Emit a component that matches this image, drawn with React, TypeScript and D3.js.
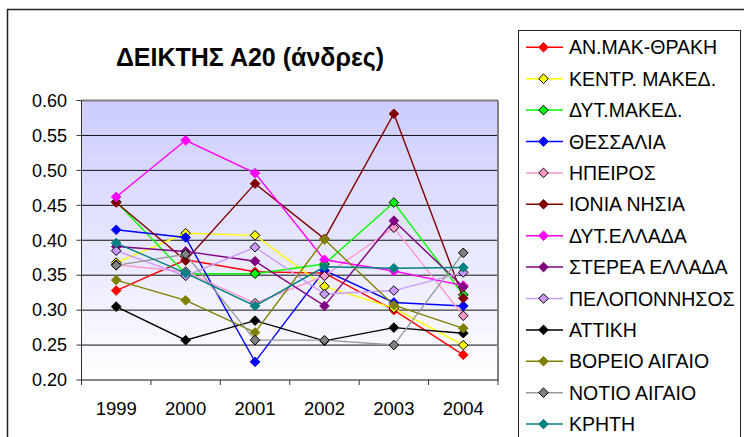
import React from "react";
import * as d3 from "d3";

const years = ["1999", "2000", "2001", "2002", "2003", "2004"];
const yTicks = [0.2, 0.25, 0.3, 0.35, 0.4, 0.45, 0.5, 0.55, 0.6];

const regionNames = [
  "ΑΝ.ΜΑΚ-ΘΡΑΚΗ",
  "ΚΕΝΤΡ. ΜΑΚΕΔ.",
  "ΔΥΤ.ΜΑΚΕΔ.",
  "ΘΕΣΣΑΛΙΑ",
  "ΗΠΕΙΡΟΣ",
  "ΙΟΝΙΑ ΝΗΣΙΑ",
  "ΔΥΤ.ΕΛΛΑΔΑ",
  "ΣΤΕΡΕΑ ΕΛΛΑΔΑ",
  "ΠΕΛΟΠΟΝΝΗΣΟΣ",
  "ΑΤΤΙΚΗ",
  "ΒΟΡΕΙΟ ΑΙΓΑΙΟ",
  "ΝΟΤΙΟ ΑΙΓΑΙΟ",
  "ΚΡΗΤΗ",
];

const anMakThraki = [0.328, 0.372, 0.355, 0.353, 0.3, 0.236];
const kentrMaked = [0.368, 0.41, 0.407, 0.334, 0.303, 0.25];
const dytMaked = [0.455, 0.352, 0.352, 0.366, 0.454, 0.322];
const thessalia = [0.415, 0.404, 0.226, 0.357, 0.311, 0.306];
const ipeiros = [0.365, 0.355, 0.31, 0.349, 0.418, 0.292];
const ioniaNisia = [0.454, 0.371, 0.481, 0.402, 0.581, 0.317];
const dytEllada = [0.462, 0.543, 0.496, 0.372, 0.356, 0.335];
const stereaEllada = [0.391, 0.384, 0.37, 0.306, 0.428, 0.333];
const peloponnisos = [0.385, 0.349, 0.39, 0.323, 0.328, 0.354];
const attiki = [0.305, 0.257, 0.285, 0.256, 0.275, 0.267];
const voreioAigaio = [0.343, 0.314, 0.268, 0.401, 0.307, 0.274];
const notioAigaio = [0.364, 0.38, 0.257, 0.257, 0.25, 0.382];
const kriti = [0.396, 0.353, 0.306, 0.362, 0.36, 0.361];

const seriesValues = [
  anMakThraki, kentrMaked, dytMaked, thessalia, ipeiros, ioniaNisia, dytEllada,
  stereaEllada, peloponnisos, attiki, voreioAigaio, notioAigaio, kriti,
];

const lineColors = [
  "#ff0000", "#ffff00", "#00ff00", "#0000ff", "#ff99cc", "#800000", "#ff00ff",
  "#800080", "#cc99ff", "#000000", "#808000", "#999999", "#008080",
];
const markerFills = [
  "#ff0000", "#ffff00", "#00ff00", "#0000ff", "#ff99cc", "#800000", "#ff00ff",
  "#800080", "#cc99ff", "#000000", "#808000", "#808080", "#008080",
];
// markers drawn with a black outline instead of their own colour
const blackOutlined = [false, true, true, false, true, false, false, false, true, false, false, true, false];

const FONT = "'Liberation Sans', Arial, sans-serif";

const plot = { left: 81.5, right: 498, top: 100.5, bottom: 380 };

export default function App() {
  const x = d3.scaleBand<string>().domain(years).range([plot.left, plot.right]);
  const y = d3.scaleLinear().domain([0.2, 0.6]).range([plot.bottom, plot.top]);
  const cx = (yr: string) => (x(yr) as number) + x.bandwidth() / 2;

  const line = d3
    .line<number>()
    .x((_, i) => cx(years[i]))
    .y((v) => y(v));

  const diamond = (px: number, py: number, r = 4.8) =>
    `M${px},${py - r}L${px + r},${py}L${px},${py + r}L${px - r},${py}Z`;

  const legend = { left: 518.5, top: 30.5, right: 740.5, rowY0: 47.3, rowStep: 31.4 };

  return (
    <svg
      width={744}
      height={437}
      style={{ position: "absolute", left: 0, top: 0, background: "#fff" }}
      fontFamily={FONT}
    >
      <defs>
        <linearGradient id="plotFill" x1="0" y1="0" x2="0" y2="1">
          <stop offset="0" stopColor="#ccccff" />
          <stop offset="1" stopColor="#ffffff" />
        </linearGradient>
      </defs>

      {/* outer chart frame */}
      <rect x={7.5} y={9.5} width={760} height={460} fill="#fff" stroke="#222" strokeWidth={1.5} />

      {/* title */}
      <text x={250} y={66} textAnchor="middle" fontSize={25} fontWeight="bold" fill="#000">
        ΔΕΙΚΤΗΣ Α20 (άνδρες)
      </text>

      {/* plot area */}
      <rect
        x={plot.left}
        y={plot.top}
        width={plot.right - plot.left}
        height={plot.bottom - plot.top}
        fill="url(#plotFill)"
      />
      {yTicks
        .filter((t) => t > 0.2 && t < 0.6)
        .map((t) => (
          <line key={t} x1={plot.left} x2={plot.right} y1={y(t)} y2={y(t)} stroke="#111" strokeWidth={1} />
        ))}
      <line x1={plot.left} x2={plot.right} y1={plot.top} y2={plot.top} stroke="#808080" strokeWidth={2} />
      <line x1={plot.right} x2={plot.right} y1={plot.top} y2={plot.bottom} stroke="#808080" strokeWidth={2} />

      {/* y axis */}
      <line x1={plot.left} x2={plot.left} y1={plot.top} y2={plot.bottom} stroke="#333" strokeWidth={1} />
      {yTicks.map((t) => (
        <g key={t}>
          <line x1={plot.left - 5} x2={plot.left} y1={y(t)} y2={y(t)} stroke="#333" strokeWidth={1} />
          <text x={67} y={y(t) + 6.3} textAnchor="end" fontSize={18} fill="#000">
            {d3.format(".2f")(t)}
          </text>
        </g>
      ))}

      {/* x axis */}
      <line x1={plot.left} x2={plot.right} y1={plot.bottom} y2={plot.bottom} stroke="#111" strokeWidth={1} />
      {years.map((yr) => (
        <g key={yr}>
          <line
            x1={x(yr) as number}
            x2={x(yr) as number}
            y1={plot.bottom}
            y2={plot.bottom + 5}
            stroke="#333"
          />
          <text x={cx(yr)} y={415} textAnchor="middle" fontSize={18.5} fill="#000">
            {yr}
          </text>
        </g>
      ))}
      <line x1={plot.right} x2={plot.right} y1={plot.bottom} y2={plot.bottom + 5} stroke="#333" />

      {/* series */}
      {seriesValues.map((vals, s) => (
        <g key={regionNames[s]}>
          <path d={line(vals) || ""} fill="none" stroke={lineColors[s]} strokeWidth={1.4} />
          {vals.map((v, i) => (
            <path
              key={i}
              d={diamond(cx(years[i]), y(v))}
              fill={markerFills[s]}
              stroke={blackOutlined[s] ? "#000" : markerFills[s]}
              strokeWidth={1}
            />
          ))}
        </g>
      ))}

      {/* legend */}
      <rect
        x={legend.left}
        y={legend.top}
        width={legend.right - legend.left}
        height={460}
        fill="#fff"
        stroke="#222"
        strokeWidth={1}
      />
      {regionNames.map((name, s) => {
        const ly = legend.rowY0 + s * legend.rowStep;
        return (
          <g key={name}>
            <line x1={526} x2={563} y1={ly} y2={ly} stroke={lineColors[s]} strokeWidth={1.5} />
            <path
              d={diamond(543.5, ly)}
              fill={markerFills[s]}
              stroke={blackOutlined[s] ? "#000" : markerFills[s]}
              strokeWidth={1}
            />
            <text x={569} y={ly + 7} fontSize={19.5} fill="#000">
              {name}
            </text>
          </g>
        );
      })}
    </svg>
  );
}
